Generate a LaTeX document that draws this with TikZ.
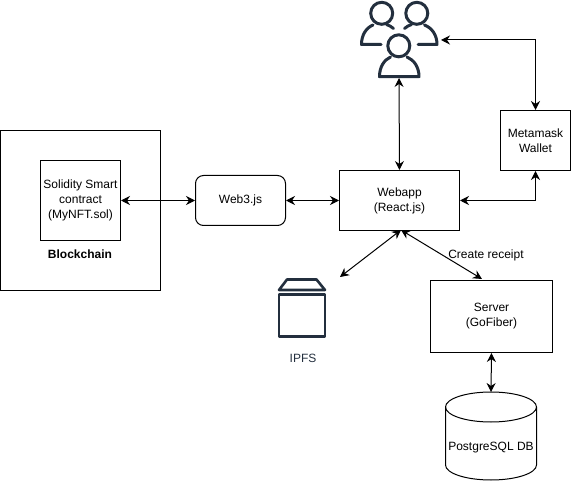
\documentclass[tikz,border=0pt]{standalone}
\usepackage{fontspec}
\setmainfont{Liberation Sans}
\usetikzlibrary{arrows.meta,shapes.geometric}
\definecolor{iconcol}{HTML}{232F3E}
\tikzset{
  every node/.style={font=\fontsize{12}{15}\selectfont, align=center},
  box/.style={draw=black, line width=1pt, rectangle, inner sep=0pt, fill=white},
  link/.style={draw=black, line width=1pt, {Stealth[length=9pt,width=9pt,inset=3pt]}-{Stealth[length=9pt,width=9pt,inset=3pt]}},
  icon/.style={draw=iconcol, line width=2.6pt, line cap=round, line join=round},
  usericon/.style={icon, line width=3pt},
}
\begin{document}
\begin{tikzpicture}[x=1pt,y=-1pt]
\useasboundingbox (0,0) rectangle (571,481);
% boxes
\node[box, minimum width=160pt, minimum height=160pt] (chain) at (80.5,210.5) {};
\node[box, minimum width=80pt, minimum height=80pt] (sol) at (80.5,200.5) {Solidity Smart\\contract\\(MyNFT.sol)};
\node[font=\fontsize{12}{15}\selectfont\bfseries] (chainlbl) at (80,254) {Blockchain};
\node[box, rounded corners=8pt, minimum width=90pt, minimum height=50pt] (web3) at (240.5,200.5) {Web3.js};
\node[box, minimum width=120pt, minimum height=60pt] (webapp) at (399.5,200.5) {Webapp\\(React.js)};
\node[box, minimum width=70pt, minimum height=60pt] (wallet) at (535.5,140.5) {Metamask\\Wallet};
\node[box, minimum width=122pt, minimum height=72pt] (server) at (491.5,316.5) {Server\\(GoFiber)};
% database
\draw[black, line width=1pt, fill=white] (445.5,407) arc[x radius=45.5, y radius=15, start angle=180, end angle=360]
  -- (536.5,465) arc[x radius=45.5, y radius=15, start angle=0, end angle=180] -- cycle;
\draw[black, line width=1pt] (445.5,407) arc[x radius=45.5, y radius=15, start angle=180, end angle=0];
\node (db) at (491,448) {PostgreSQL DB};
\coordinate (dbtop) at (491,392);
% users icon
\draw[usericon] (381.7,13.3) circle[radius=11];
\draw[usericon] (416.8,13.3) circle[radius=11];
\draw[usericon] (398.8,45.8) circle[radius=11];
\draw[usericon] (381,44.5) -- (361.5,44.5) .. controls (361.5,35) and (366,28) .. (373,25);
\draw[usericon] (393.5,28.5) .. controls (391.5,26.5) and (389,25.5) .. (386.5,24.5);
\draw[usericon] (404.5,28.5) .. controls (406.5,26.5) and (409,25.5) .. (411.5,24.5);
\draw[usericon] (424.5,25) .. controls (432,28) and (437,35) .. (437,44.5) -- (418,44.5);
\draw[usericon] (390.5,57) .. controls (384,60) and (379.5,67) .. (379.5,76.7) -- (419,76.7) .. controls (419,67) and (414,60) .. (407,57);
\coordinate (usersS) at (399,78);
\coordinate (usersE) at (441,40);
% ipfs icon
\draw[icon] (279,290) -- (287,279.5) -- (316.5,279.5) -- (325,290) -- cycle;
\draw[icon] (279,294.5) rectangle (325,336.5);
\coordinate (ipfsport) at (340,277);
\node[text=iconcol] (ipfslbl) at (303,358) {IPFS};
% connectors
\coordinate (webS) at (401,230);
\coordinate (srvN) at (482,279);
\draw[link] (sol.east) -- (web3.west);
\draw[link] (web3.east) -- (webapp.west);
\draw[link] (usersS) -- (webapp.north);
\draw[link] (usersE) -| (wallet.north);
\draw[link] (webapp.east) -| (wallet.south);
\draw[link] (webS) -- (ipfsport);
\draw[link] (webS) -- (srvN);
\draw[link] (server.south) -- (dbtop);
\node (receipt) at (486,255.5) {Create receipt};
\end{tikzpicture}
\end{document}
